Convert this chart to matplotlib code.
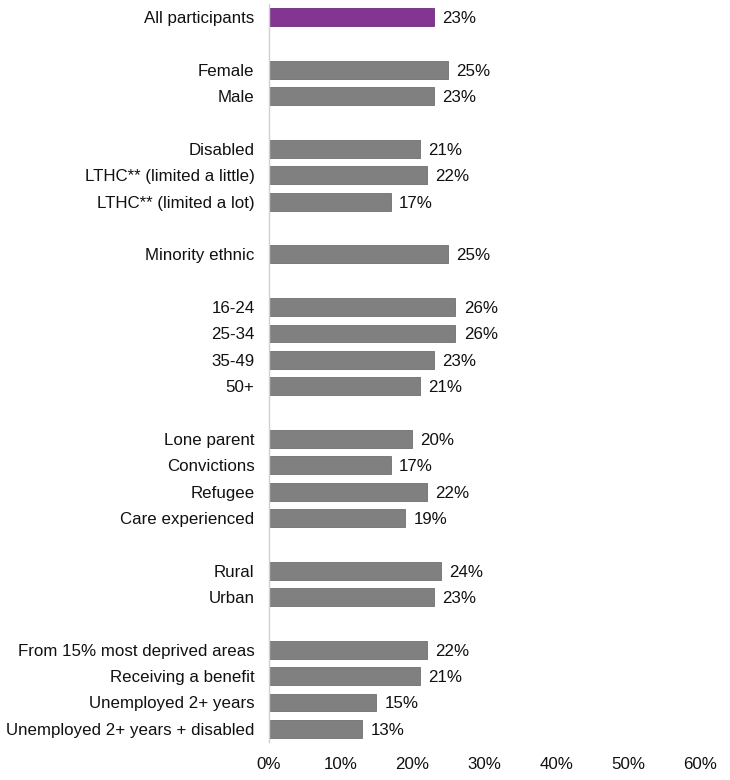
import matplotlib
matplotlib.use("Agg")
import matplotlib.pyplot as plt

plt.rcParams['font.family'] = ['Liberation Sans', 'DejaVu Sans']

categories = ["All participants", "", "Female", "Male", "",
              "Disabled", "LTHC** (limited a little)", "LTHC** (limited a lot)", "",
              "Minority ethnic", "",
              "16-24", "25-34", "35-49", "50+", "",
              "Lone parent", "Convictions", "Refugee", "Care experienced", "",
              "Rural", "Urban", "",
              "From 15% most deprived areas", "Receiving a benefit",
              "Unemployed 2+ years", "Unemployed 2+ years + disabled"]
values = [23, None, 25, 23, None,
          21, 22, 17, None,
          25, None,
          26, 26, 23, 21, None,
          20, 17, 22, 19, None,
          24, 23, None,
          22, 21, 15, 13]
xticks = [0, 10, 20, 30, 40, 50, 60]

fig = plt.figure(figsize=(7.3, 7.8), dpi=100)
ax = fig.add_axes([268.5/730, 1-742/780, (700-268.5)/730, 738/780])

fs = 12.2
for i, (c, v) in enumerate(zip(categories, values)):
    if v is None:
        continue
    color = '#833592' if i == 0 else '#808080'
    ax.barh(i, v, height=0.68, color=color, edgecolor='#6f6f6f' if i else '#6f2d7d', linewidth=0.6)
    ax.text(v + 1.15, i, f"{v}%", va='center_baseline', ha='left', fontsize=fs, color='#111111')

ax.set_ylim(len(categories) - 0.5, -0.5)
ax.set_xlim(0, 60)
ax.set_yticks(range(len(categories)))
ax.set_yticklabels(categories, fontsize=fs, color='#111111', va='center_baseline')
ax.set_xticks(xticks)
ax.set_xticklabels([f"{t}%" for t in xticks], fontsize=fs, color='#111111')
ax.tick_params(axis='y', length=0, pad=10)
ax.tick_params(axis='x', length=0, pad=11)
for s in ['top', 'right', 'bottom']:
    ax.spines[s].set_visible(False)
ax.spines['left'].set_color('#d0d0d0')
ax.spines['left'].set_linewidth(1)

fig.savefig("out.png", dpi=100)
